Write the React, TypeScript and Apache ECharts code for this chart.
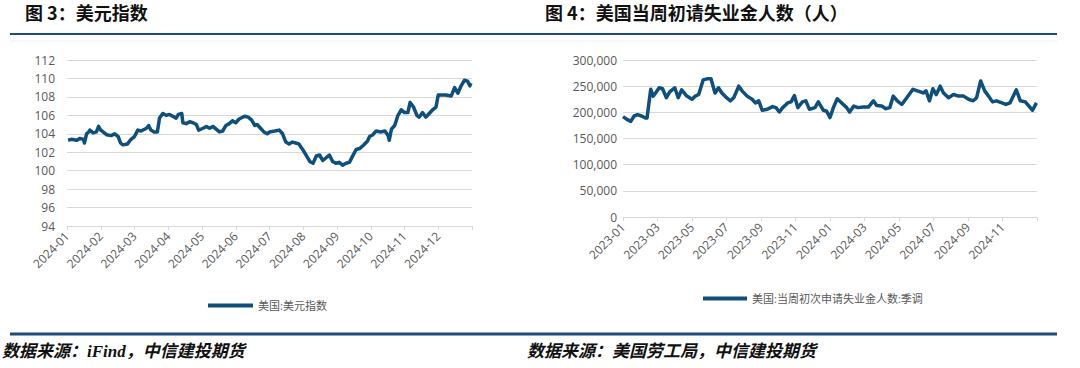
import React, { useEffect, useRef } from "react";
import * as echarts from "echarts";

// ---- Chart 3: US Dollar Index (2024) ----
const dxyDates = [
  "2024-01-02","2024-01-05","2024-01-10","2024-01-13","2024-01-16","2024-01-17","2024-01-19","2024-01-21","2024-01-22","2024-01-25","2024-01-28","2024-01-30",
  "2024-02-01","2024-02-03","2024-02-06","2024-02-10","2024-02-13","2024-02-16","2024-02-18","2024-02-20","2024-02-24","2024-02-27",
  "2024-03-01","2024-03-04","2024-03-07","2024-03-12","2024-03-14","2024-03-16","2024-03-19","2024-03-22","2024-03-24","2024-03-27","2024-03-30",
  "2024-04-02","2024-04-05","2024-04-08","2024-04-10","2024-04-13","2024-04-14","2024-04-17","2024-04-20","2024-04-23","2024-04-26","2024-04-28",
  "2024-05-02","2024-05-05","2024-05-08","2024-05-11","2024-05-14","2024-05-17","2024-05-20","2024-05-23","2024-05-26","2024-05-29",
  "2024-06-01","2024-06-04","2024-06-09","2024-06-12","2024-06-15","2024-06-18","2024-06-20","2024-06-23","2024-06-26","2024-06-29",
  "2024-07-01","2024-07-06","2024-07-10","2024-07-13","2024-07-16","2024-07-19","2024-07-22","2024-07-25","2024-07-28",
  "2024-08-01","2024-08-04","2024-08-07","2024-08-10","2024-08-13","2024-08-16","2024-08-19","2024-08-22","2024-08-25","2024-08-28","2024-08-31",
  "2024-09-03","2024-09-06","2024-09-09","2024-09-12","2024-09-15","2024-09-18","2024-09-21","2024-09-24","2024-09-28","2024-09-30",
  "2024-10-03","2024-10-06","2024-10-10","2024-10-14","2024-10-17","2024-10-18","2024-10-20","2024-10-23","2024-10-26","2024-10-29",
  "2024-11-01","2024-11-04","2024-11-06","2024-11-09","2024-11-12","2024-11-14","2024-11-17","2024-11-20","2024-11-23","2024-11-26","2024-11-29",
  "2024-12-01","2024-12-04","2024-12-08","2024-12-13","2024-12-16","2024-12-19","2024-12-22","2024-12-25","2024-12-28","2024-12-30","2024-12-31",
];
const dxyValues = [
  103.3,103.4,103.3,103.5,103.4,103.0,104.0,104.2,104.4,104.1,104.2,104.8,
  104.4,104.2,103.9,103.8,104.0,103.7,103.0,102.8,102.9,103.4,
  103.7,104.4,104.3,104.6,104.9,104.4,104.2,104.2,105.7,106.2,106.0,
  106.1,105.9,105.7,106.1,106.2,105.2,105.1,105.3,105.2,105.0,104.4,
  104.6,104.8,104.6,104.8,104.5,104.2,104.3,104.9,105.1,105.4,
  105.2,105.6,105.9,105.8,105.5,104.9,105.0,104.6,104.2,104.0,
  104.2,104.3,104.4,104.0,103.1,102.9,103.1,103.0,102.9,
  102.2,101.6,101.0,100.8,101.6,101.7,101.1,101.4,101.7,101.0,100.8,
  100.9,100.6,100.8,100.9,101.6,102.3,102.4,102.7,103.2,103.7,
  103.9,104.3,104.2,104.3,103.8,103.3,104.5,104.9,106.0,106.6,
  106.3,106.3,107.4,106.9,106.0,105.8,106.3,105.8,106.2,106.6,106.9,
  108.2,108.2,108.2,108.1,109.0,108.4,109.2,109.8,109.7,109.2,109.5,
];
const dxyMonthLabels = ["2024-01","2024-02","2024-03","2024-04","2024-05","2024-06","2024-07","2024-08","2024-09","2024-10","2024-11","2024-12"];
const dxyTicks = [112, 110, 108, 106, 104, 102, 100, 98, 96, 94];

// ---- Chart 4: US initial jobless claims (weekly, SA) ----
const claimsDates = [
  "2023-01-01","2023-01-08","2023-01-15","2023-01-21","2023-01-27","2023-02-03","2023-02-10","2023-02-12","2023-02-18","2023-02-22","2023-02-27",
  "2023-03-04","2023-03-10","2023-03-17","2023-03-23","2023-04-01","2023-04-07","2023-04-13","2023-04-22",
  "2023-05-01","2023-05-07","2023-05-13","2023-05-21","2023-05-28","2023-06-04","2023-06-11","2023-06-17","2023-06-23",
  "2023-07-01","2023-07-08","2023-07-14","2023-07-23","2023-07-29","2023-08-07","2023-08-16","2023-08-22","2023-08-28",
  "2023-09-03","2023-09-12","2023-09-21","2023-09-27","2023-10-03","2023-10-09","2023-10-18","2023-10-24","2023-10-30",
  "2023-11-05","2023-11-13","2023-11-19","2023-11-25","2023-12-05","2023-12-11","2023-12-20","2023-12-26",
  "2024-01-01","2024-01-07","2024-01-14","2024-01-22","2024-01-31","2024-02-05","2024-02-12","2024-02-19","2024-02-28",
  "2024-03-08","2024-03-17","2024-03-23","2024-04-01","2024-04-08","2024-04-15","2024-04-21","2024-04-28",
  "2024-05-06","2024-05-15","2024-05-26","2024-06-03","2024-06-13","2024-06-18","2024-06-24","2024-06-30",
  "2024-07-06","2024-07-13","2024-07-19","2024-07-28","2024-08-06","2024-08-15","2024-08-24",
  "2024-09-02","2024-09-10","2024-09-16","2024-09-23","2024-09-30","2024-10-07","2024-10-14","2024-10-21","2024-10-31",
  "2024-11-07","2024-11-14","2024-11-25","2024-12-02","2024-12-11","2024-12-24","2024-12-31",
];
const claimsValues = [
  191700,186600,182800,193000,195500,193000,189000,189000,244000,231000,239000,
  247000,245000,228000,239000,247000,228000,243000,231000,
  225000,231000,234000,262000,264000,264000,237000,247000,237000,
  228000,222000,228000,250000,241000,231000,225000,218000,222000,
  204000,206000,211000,209000,200600,209000,218000,220000,232000,
  209000,220000,222000,206000,209000,220000,204000,202000,
  190000,209000,226000,218000,209000,200600,212000,209000,210000,
  210000,222000,213000,212000,207000,209000,231000,222000,
  215000,228000,244000,241000,237000,241000,222000,245000,
  234000,250000,237000,228000,234000,231000,231000,
  225000,222000,228000,260000,241000,231000,220000,222000,218000,
  215000,218000,243000,222000,220000,204000,218000,
];
const claimsMonthLabels = ["2023-01","2023-03","2023-05","2023-07","2023-09","2023-11","2024-01","2024-03","2024-05","2024-07","2024-09","2024-11"];
const claimsTicks = [300000, 250000, 200000, 150000, 100000, 50000, 0];

const LINE_COLOR = "#0f4f7b";
const TEXT_GRAY = "#595959";
const GRID_GRAY = "#d9d9d9";
const RULE_COLOR = "#1f4e79";
const FONT = '"Open Sans", "Noto Sans CJK SC", sans-serif';

function monthOffset(d: string, startYear: number): number {
  const [y, m, day] = d.split("-").map(Number);
  const dim = new Date(y, m, 0).getDate();
  return (y - startYear) * 12 + (m - 1) + (day - 1) / dim;
}

export default function App() {
  const ref = useRef<HTMLDivElement>(null);
  useEffect(() => {
    if (!ref.current) return;
    const chart = echarts.init(ref.current, null, { renderer: "svg" });
    const dxyData = dxyDates.map((d, i) => [monthOffset(d, 2024), dxyValues[i]]);
    const claimsData = claimsDates.map((d, i) => [monthOffset(d, 2023), claimsValues[i]]);
    const labelStyle = { color: TEXT_GRAY, fontSize: 12, fontFamily: FONT };

    chart.setOption({
      animation: false,
      backgroundColor: "#fff",
      grid: [
        { left: 67, right: 1080 - 472, top: 60, bottom: 368 - 226, containLabel: false },
        { left: 623, right: 1080 - 1037, top: 60, bottom: 368 - 217, containLabel: false },
      ],
      xAxis: [
        {
          gridIndex: 0, type: "value", min: 0, max: 12, interval: 1,
          axisLine: { show: true, lineStyle: { color: GRID_GRAY } },
          axisTick: { show: true, length: 4, lineStyle: { color: GRID_GRAY } },
          splitLine: { show: false },
          axisLabel: {
            ...labelStyle, rotate: 45, margin: 8,
            formatter: (v: number) => (v < dxyMonthLabels.length ? dxyMonthLabels[v] : ""),
          },
        },
        {
          gridIndex: 1, type: "value", min: 0, max: 24, interval: 2,
          axisLine: { show: true, lineStyle: { color: GRID_GRAY } },
          axisTick: { show: true, length: 4, lineStyle: { color: GRID_GRAY } },
          splitLine: { show: false },
          axisLabel: {
            ...labelStyle, rotate: 45, margin: 8,
            formatter: (v: number) => (v / 2 < claimsMonthLabels.length ? claimsMonthLabels[v / 2] : ""),
          },
        },
      ],
      yAxis: [
        {
          gridIndex: 0, type: "value",
          min: dxyTicks[dxyTicks.length - 1], max: dxyTicks[0], interval: 2,
          axisLine: { show: false }, axisTick: { show: false },
          splitLine: { lineStyle: { color: GRID_GRAY, width: 1 } },
          axisLabel: { ...labelStyle, margin: 12 },
        },
        {
          gridIndex: 1, type: "value",
          min: claimsTicks[claimsTicks.length - 1], max: claimsTicks[0], interval: 50000,
          axisLine: { show: false }, axisTick: { show: false },
          splitLine: { lineStyle: { color: GRID_GRAY, width: 1 } },
          axisLabel: { ...labelStyle, margin: 6, formatter: (v: number) => v.toLocaleString("en-US") },
        },
      ],
      legend: [
        {
          data: [{ name: "美国:美元指数", icon: "rect" }],
          left: 203, top: 295, itemWidth: 45, itemHeight: 4, itemGap: 5,
          textStyle: { color: TEXT_GRAY, fontSize: 11, fontFamily: FONT },
        },
        {
          data: [{ name: "美国:当周初次申请失业金人数:季调", icon: "rect" }],
          left: 698, top: 288, itemWidth: 44, itemHeight: 4, itemGap: 4,
          textStyle: { color: TEXT_GRAY, fontSize: 11, fontFamily: FONT },
        },
      ],
      series: [
        {
          name: "美国:美元指数", type: "line", xAxisIndex: 0, yAxisIndex: 0,
          data: dxyData, showSymbol: false, symbol: "none",
          lineStyle: { color: LINE_COLOR, width: 3.5, join: "round" },
          itemStyle: { color: LINE_COLOR },
        },
        {
          name: "美国:当周初次申请失业金人数:季调", type: "line", xAxisIndex: 1, yAxisIndex: 1,
          data: claimsData, showSymbol: false, symbol: "none",
          lineStyle: { color: LINE_COLOR, width: 3.5, join: "round" },
          itemStyle: { color: LINE_COLOR },
        },
      ],
      graphic: [
        {
          type: "text", left: 25, top: 3,
          style: { text: "图 3：美元指数", fontSize: 18, fontWeight: "bold", fontFamily: '"Noto Sans CJK SC", sans-serif', fill: "#111" },
        },
        {
          type: "text", left: 545, top: 3,
          style: { text: "图 4：美国当周初请失业金人数（人）", fontSize: 18, fontWeight: "bold", fontFamily: '"Noto Sans CJK SC", sans-serif', fill: "#111" },
        },
        { type: "line", shape: { x1: 10, y1: 34, x2: 1057, y2: 34 }, style: { stroke: RULE_COLOR, lineWidth: 2 } },
        { type: "line", shape: { x1: 10, y1: 41, x2: 1057, y2: 41 }, style: { stroke: "#e6f1f7", lineWidth: 1 } },
        { type: "line", shape: { x1: 10, y1: 334, x2: 1057, y2: 334 }, style: { stroke: RULE_COLOR, lineWidth: 3 } },
        {
          type: "text", left: 2, top: 343,
          style: { text: "数据来源：iFind，中信建投期货", fontSize: 17, fontWeight: "bold", fontStyle: "italic", fontFamily: '"Liberation Serif", "Noto Sans CJK SC", serif', fill: "#111" },
        },
        {
          type: "text", left: 527, top: 343,
          style: { text: "数据来源：美国劳工局，中信建投期货", fontSize: 17, fontWeight: "bold", fontStyle: "italic", fontFamily: '"Liberation Serif", "Noto Sans CJK SC", serif', fill: "#111" },
        },
      ],
    });
    return () => chart.dispose();
  }, []);
  return <div ref={ref} style={{ position: "absolute", left: 0, top: 0, width: 1080, height: 368 }} />;
}
